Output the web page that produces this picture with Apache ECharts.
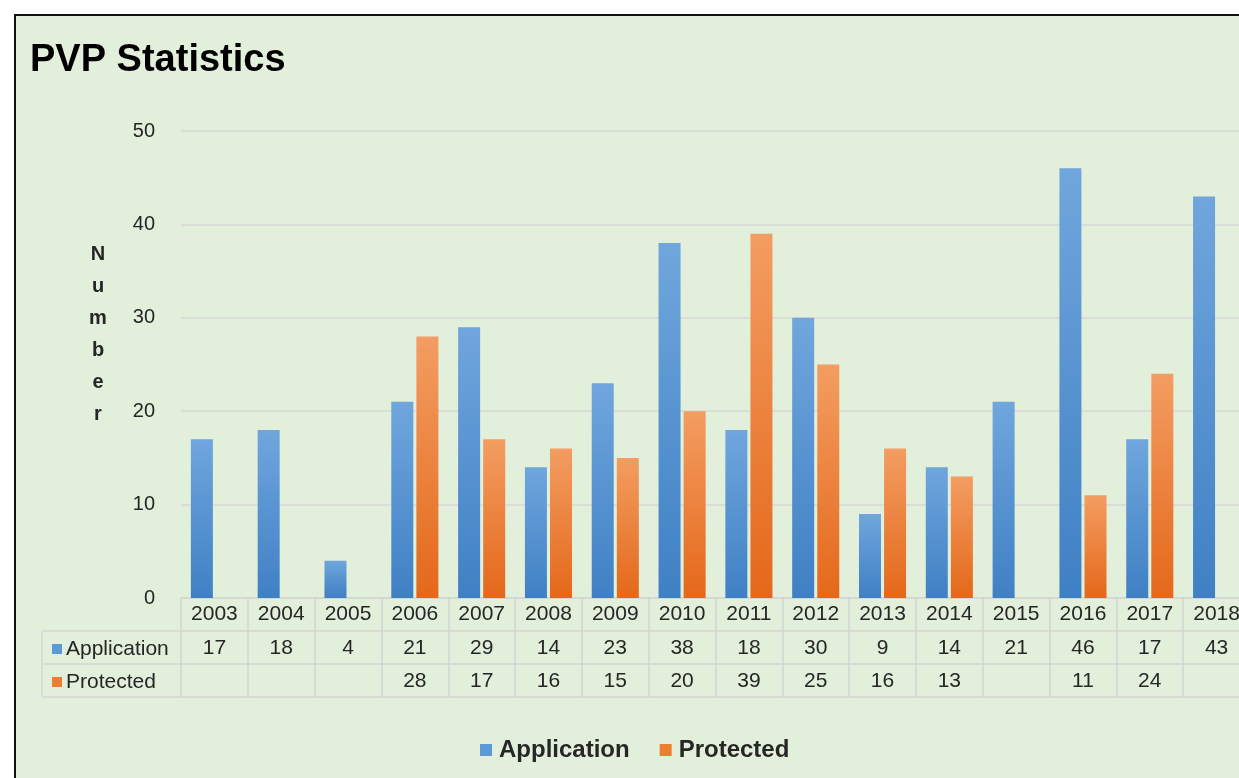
<!DOCTYPE html>
<html>
<head>
<meta charset="utf-8">
<script src="https://cdn.jsdelivr.net/npm/echarts@6/dist/echarts.min.js"></script>
<style>
  html, body { margin: 0; padding: 0; background: #fff; }
  #frame {
    position: absolute; left: 14px; top: 14px; width: 1240px; height: 780px;
    border-left: 2px solid #111; border-top: 2px solid #111; background: #E2EFDA;
  }
  #main { position: absolute; left: 0; top: 0; width: 1239px; height: 778px; }
</style>
</head>
<body>
<div id="frame"></div>
<div id="main"></div>
<script>
// data
const years = ["2003", "2004", "2005", "2006", "2007", "2008", "2009", "2010",
  "2011", "2012", "2013", "2014", "2015", "2016", "2017", "2018"];
const application = [17, 18, 4, 21, 29, 14, 23, 38, 18, 30, 9, 14, 21, 46, 17, 43];
const protectedVals = [null, null, null, 28, 17, 16, 15, 20, 39, 25, 16, 13, null, 11, 24, null];
const yTicks = { min: 0, max: 50, interval: 10 };

const FONT = '"Liberation Sans", Arial, sans-serif';
const TXT = "#262626";
const LINE = "#D4D4D4";

const blueGrad = new echarts.graphic.LinearGradient(0, 0, 0, 1, [
  { offset: 0, color: "#70A6DD" },
  { offset: 1, color: "#3F80C4" },
]);
const orangeGrad = new echarts.graphic.LinearGradient(0, 0, 0, 1, [
  { offset: 0, color: "#F39D62" },
  { offset: 1, color: "#E4681A" },
]);
const shadow = {
  shadowColor: "rgba(0,0,0,0.35)",
  shadowBlur: 4,
  shadowOffsetX: 2,
  shadowOffsetY: 1,
};

const chart = echarts.init(document.getElementById("main"));

function rowAxis(labels, offset) {
  return {
    type: "category",
    position: "bottom",
    offset: offset,
    data: labels,
    axisLine: { show: true, lineStyle: { color: LINE, width: 1.5 } },
    axisTick: { show: false },
    axisLabel: { interval: 0, margin: 7, fontSize: 21, color: TXT, fontFamily: FONT },
  };
}

const legendItems = [
  { name: "Application", itemStyle: { color: "#5B9BD5" } },
  { name: "Protected", itemStyle: { color: "#ED7D31" } },
];

const option = {
  backgroundColor: "transparent",
  textStyle: { fontFamily: FONT },
  title: [
    {
      text: "PVP Statistics",
      left: 25,
      top: 37,
      textStyle: { fontSize: 38, fontWeight: "bold", color: "#000", fontFamily: FONT },
    },
    {
      text: "N\nu\nm\nb\ne\nr",
      left: 93,
      top: 233,
      textAlign: "center",
      textStyle: { fontSize: 20, fontWeight: "bold", color: TXT, lineHeight: 32, fontFamily: FONT },
    },
  ],
  legend: [
    {
      data: legendItems,
      orient: "horizontal",
      left: 475,
      top: 733,
      itemWidth: 12,
      itemHeight: 12,
      itemGap: 30,
      icon: "rect",
      selectedMode: false,
      textStyle: { fontSize: 24, fontWeight: "bold", color: TXT, fontFamily: FONT, padding: [0, 0, 0, 2] },
    },
    {
      data: legendItems,
      orient: "vertical",
      left: 47,
      top: 633,
      itemWidth: 10,
      itemHeight: 10,
      itemGap: 11,
      icon: "rect",
      selectedMode: false,
      textStyle: { fontSize: 21, color: TXT, fontFamily: FONT, lineHeight: 22, padding: [0, 0, 0, -1] },
    },
  ],
  grid: { left: 181, top: 131, width: 1069, height: 467, outerBoundsMode: "none", containLabel: false },
  xAxis: [
    {
      type: "category",
      data: years,
      axisLine: { show: true, lineStyle: { color: LINE, width: 1.5 } },
      axisTick: { show: true, interval: 0, length: 99, lineStyle: { color: LINE, width: 1.5 } },
      axisLabel: { interval: 0, margin: 6, fontSize: 21, color: TXT, fontFamily: FONT },
    },
    rowAxis(application.map(v => (v == null ? "" : String(v))), 33),
    rowAxis(protectedVals.map(v => (v == null ? "" : String(v))), 66),
    rowAxis(years.map(() => ""), 99),
  ],
  yAxis: {
    type: "value",
    min: yTicks.min,
    max: yTicks.max,
    interval: yTicks.interval,
    axisLine: { show: false },
    axisTick: { show: false },
    splitLine: { lineStyle: { color: "#D6D6D6", width: 1.5 } },
    axisLabel: { margin: 26, fontSize: 20, color: TXT, fontFamily: FONT },
  },
  series: [
    {
      name: "Application",
      type: "bar",
      data: application,
      barWidth: 22,
      barGap: "14%",
      itemStyle: Object.assign({ color: blueGrad }, shadow),
    },
    {
      name: "Protected",
      type: "bar",
      data: protectedVals,
      barWidth: 22,
      itemStyle: Object.assign({ color: orangeGrad }, shadow),
    },
  ],
  // left block of the data table (row header cells)
  graphic: [
    { type: "line", shape: { x1: 42, y1: 631, x2: 181, y2: 631 }, style: { stroke: LINE, lineWidth: 1.5 } },
    { type: "line", shape: { x1: 42, y1: 664, x2: 181, y2: 664 }, style: { stroke: LINE, lineWidth: 1.5 } },
    { type: "line", shape: { x1: 42, y1: 697, x2: 181, y2: 697 }, style: { stroke: LINE, lineWidth: 1.5 } },
    { type: "line", shape: { x1: 42, y1: 631, x2: 42, y2: 697 }, style: { stroke: LINE, lineWidth: 1.5 } },
  ],
};

chart.setOption(option);
</script>
</body>
</html>
